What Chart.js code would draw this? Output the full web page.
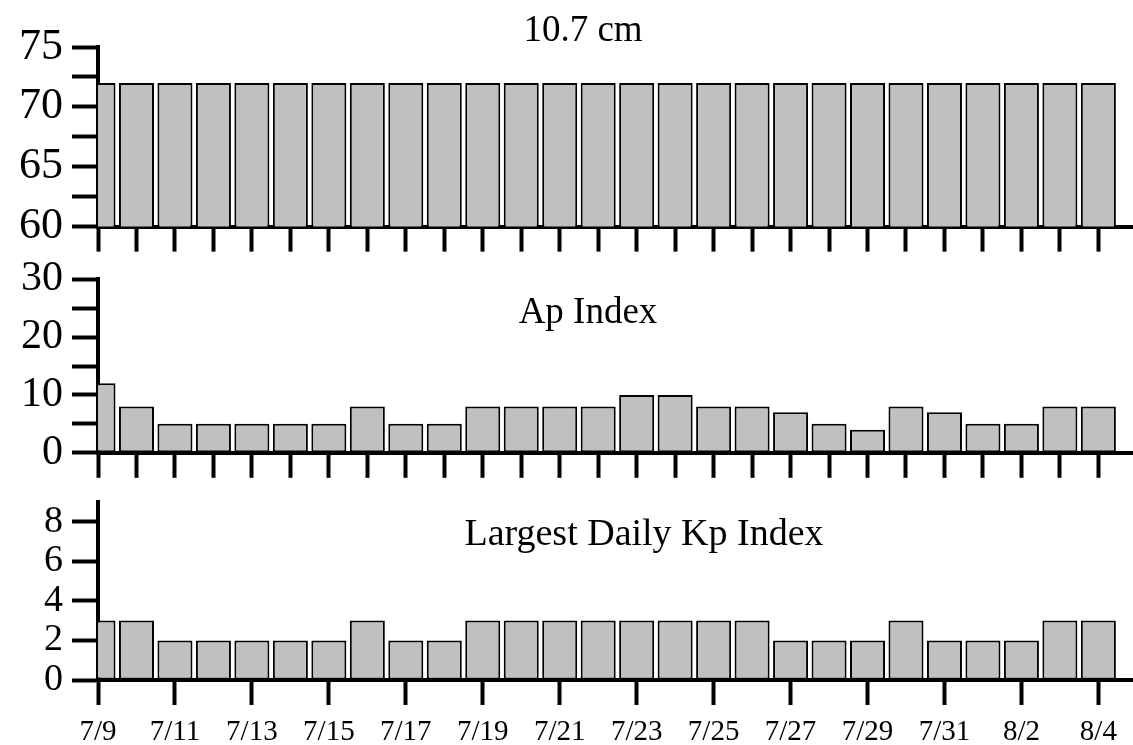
<!DOCTYPE html>
<html>
<head>
<meta charset="utf-8">
<script src="https://cdn.jsdelivr.net/npm/chart.js@4"></script>
<style>
  body { margin: 0; background: #fff; }
  #wrap { position: relative; width: 1133px; height: 745px; overflow: hidden; }
  .panel { position: absolute; left: 0; }
  canvas { display: block; }
</style>
</head>
<body>
<div id="wrap">
  <div class="panel" style="top:0px"><canvas id="fluxChart" width="1133" height="262"></canvas></div>
  <div class="panel" style="top:245px"><canvas id="apChart" width="1133" height="242"></canvas></div>
  <div class="panel" style="top:470px"><canvas id="kpChart" width="1133" height="275"></canvas></div>
</div>
<script>
// Daily values, 7/9 - 8/4
const dates = ['7/9', '7/10', '7/11', '7/12', '7/13', '7/14', '7/15', '7/16', '7/17', '7/18',
  '7/19', '7/20', '7/21', '7/22', '7/23', '7/24', '7/25', '7/26', '7/27', '7/28',
  '7/29', '7/30', '7/31', '8/1', '8/2', '8/3', '8/4'];
const flux107 = [72, 72, 72, 72, 72, 72, 72, 72, 72, 72, 72, 72, 72, 72, 72, 72, 72, 72,
  72, 72, 72, 72, 72, 72, 72, 72, 72];
const apIndex = [12, 8, 5, 5, 5, 5, 5, 8, 5, 5, 8, 8, 8, 8, 10, 10, 8, 8, 7, 5, 4, 8, 7, 5, 5, 8, 8];
const kpMax = [3, 3, 2, 2, 2, 2, 2, 3, 2, 2, 3, 3, 3, 3, 3, 3, 3, 3, 2, 2, 2, 3, 2, 2, 2, 3, 3];

const FONT = '"Liberation Serif", "Times New Roman", serif';

// draws the panel caption inside the plot
const panelTitle = {
  id: 'panelTitle',
  afterDraw(chart, args, opts) {
    const ctx = chart.ctx;
    ctx.save();
    ctx.font = opts.size + 'px ' + FONT;
    ctx.fillStyle = '#000';
    ctx.textAlign = 'center';
    ctx.textBaseline = 'alphabetic';
    ctx.fillText(opts.text, opts.x, opts.y);
    ctx.restore();
  }
};

function makePanel(id, values, cfg) {
  const ctx = document.getElementById(id).getContext('2d');
  return new Chart(ctx, {
    type: 'bar',
    data: {
      datasets: [{
        data: values.map((v, i) => ({ x: i, y: v })),
        backgroundColor: '#c0c0c0',
        borderColor: '#000',
        borderWidth: 2,
        borderSkipped: false,
        barPercentage: 0.91,
        categoryPercentage: 1,
        clip: 0
      }]
    },
    options: {
      responsive: false,
      animation: false,
      layout: { padding: { top: cfg.padTop, left: 0, right: 0, bottom: 0 } },
      plugins: {
        legend: { display: false },
        tooltip: { enabled: false },
        panelTitle: cfg.title
      },
      scales: {
        x: {
          type: 'linear',
          min: 0,
          max: 26.9,
          offset: false,
          z: 1,
          afterFit: s => { s.height = cfg.xHeight; },
          border: { display: true, color: '#000', width: 4 },
          grid: { offset: false, drawOnChartArea: false, drawTicks: true, tickLength: 25, tickWidth: 4, tickColor: '#000' },
          ticks: {
            stepSize: cfg.xStep,
            includeBounds: false,
            autoSkip: false,
            maxRotation: 0,
            maxTicksLimit: 100,
            display: cfg.showX,
            padding: 10,
            color: '#000',
            font: { family: FONT, size: 29 },
            callback: v => dates[v] || ''
          }
        },
        y: {
          min: cfg.yMin,
          max: cfg.yMax,
          z: 1,
          afterFit: s => { s.width = 98; },
          border: { display: true, color: '#000', width: 4 },
          grid: { drawOnChartArea: false, drawTicks: true, tickLength: 26, tickWidth: 4, tickColor: '#000' },
          ticks: {
            stepSize: cfg.yStep,
            includeBounds: false,
            autoSkip: false,
            padding: 9,
            color: '#000',
            font: { family: FONT, size: cfg.yFont },
            callback: cfg.yLabel
          }
        }
      }
    },
    plugins: [panelTitle]
  });
}

makePanel('fluxChart', flux107, {
  yMin: 60, yMax: 75, yStep: 2.5, yFont: 44,
  yLabel: v => (v % 5 === 0 ? v : ''),
  xStep: 1, showX: false, padTop: 47, xHeight: 31,
  title: { text: '10.7 cm', x: 583, y: 41, size: 37 }
});

makePanel('apChart', apIndex, {
  yMin: 0, yMax: 30, yStep: 5, yFont: 42,
  yLabel: v => (v % 10 === 0 ? v : ''),
  xStep: 1, showX: false, padTop: 27, xHeight: 30,
  title: { text: 'Ap Index', x: 588, y: 78, size: 37 }
});

makePanel('kpChart', kpMax, {
  yMin: 0, yMax: 9, yStep: 2, yFont: 38,
  yLabel: v => v,
  xStep: 2, showX: true, padTop: 26, xHeight: 65,
  title: { text: 'Largest Daily Kp Index', x: 644, y: 75, size: 38 }
});
</script>
</body>
</html>
